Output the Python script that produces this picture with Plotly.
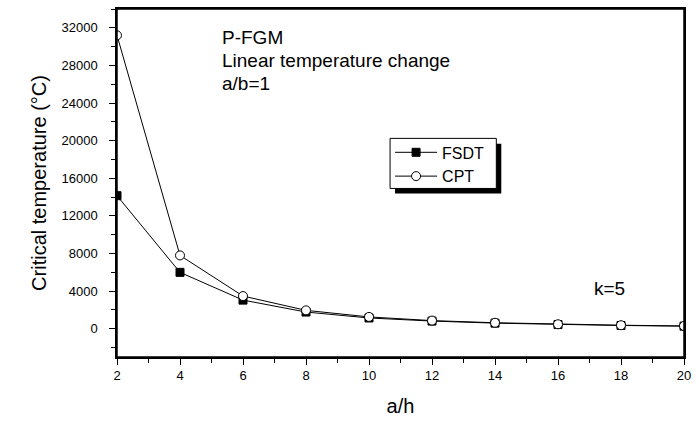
import plotly.graph_objects as go

a_h = [2, 4, 6, 8, 10, 12, 14, 16, 18, 20]
fsdt = [14150, 6000, 3050, 1780, 1150, 820, 600, 450, 350, 280]
cpt = [31200, 7800, 3480, 1960, 1260, 870, 640, 480, 380, 300]

x_ticks = [2, 4, 6, 8, 10, 12, 14, 16, 18, 20]
y_ticks = [0, 4000, 8000, 12000, 16000, 20000, 24000, 28000, 32000]

FONT = "Liberation Sans, Arial, sans-serif"

fig = go.Figure()
fig.add_trace(go.Scatter(x=a_h, y=fsdt, name="FSDT", mode="lines+markers",
                         line=dict(color="black", width=1),
                         marker=dict(symbol="square", size=8, color="black",
                                     line=dict(color="black", width=1))))
fig.add_trace(go.Scatter(x=a_h, y=cpt, name="CPT", mode="lines+markers",
                         line=dict(color="black", width=1),
                         marker=dict(symbol="circle", size=9, color="white",
                                     line=dict(color="black", width=1))))

L, R, T, B = 117, 10, 7, 63
W, H = 698, 421
pw = W - L - R
ph = H - T - B

def px2x(px):
    return (px - L) / pw

def px2y(py):
    return (H - B - py) / ph

fig.add_shape(type="rect", xref="paper", yref="paper", x0=0, x1=1, y0=0, y1=1,
              line=dict(color="black", width=1.5), fillcolor="rgba(0,0,0,0)", layer="above")

fig.add_shape(type="rect", xref="paper", yref="paper",
              x0=px2x(397), x1=px2x(504), y0=px2y(193), y1=px2y(143),
              fillcolor="black", line=dict(width=0), layer="above")
fig.add_shape(type="rect", xref="paper", yref="paper",
              x0=px2x(392), x1=px2x(499), y0=px2y(188), y1=px2y(137.5),
              fillcolor="white", line=dict(color="black", width=1), layer="above")

ann_font = dict(family=FONT, size=19, color="black")
for txt, yy in [("P-FGM", 36), ("Linear temperature change", 59), ("a/b=1", 82)]:
    fig.add_annotation(text=txt, xref="paper", yref="paper", x=px2x(221), y=px2y(yy),
                       xanchor="left", yanchor="middle", showarrow=False, font=ann_font)
fig.add_annotation(text="k=5", xref="paper", yref="paper", x=px2x(595), y=px2y(289),
                   xanchor="left", yanchor="middle", showarrow=False, font=ann_font)

fig.update_layout(
    width=W, height=H,
    margin=dict(l=L, r=R, t=T, b=B),
    paper_bgcolor="white", plot_bgcolor="white",
    font=dict(family=FONT, color="black", size=13),
    showlegend=True,
    legend=dict(x=px2x(392), y=px2y(134.5), xanchor="left", yanchor="top",
                bgcolor="rgba(0,0,0,0)", borderwidth=0,
                font=dict(family=FONT, size=16, color="black"),
                tracegroupgap=0, itemwidth=42),
    xaxis=dict(range=[2, 20], tickmode="array", tickvals=x_ticks,
               ticktext=[str(v) for v in x_ticks],
               showgrid=False, zeroline=False, showline=True, linecolor="black",
               linewidth=1.5, mirror=True, ticks="outside", ticklen=6, tickwidth=1,
               tickcolor="black",
               minor=dict(tickmode="linear", tick0=1, dtick=2, ticks="outside",
                          ticklen=4, tickwidth=1, tickcolor="black", showgrid=False),
               title=dict(text="a/h", font=dict(family=FONT, size=20), standoff=17),
               tickfont=dict(family=FONT, size=13)),
    yaxis=dict(range=[-3000, 34000], tickmode="array", tickvals=y_ticks,
               ticktext=[str(v) for v in y_ticks],
               showgrid=False, zeroline=False, showline=True, linecolor="black",
               linewidth=1.5, mirror=True, ticks="outside", ticklen=6, tickwidth=1,
               tickcolor="black", ticklabelstandoff=9,
               minor=dict(tickmode="linear", tick0=2000, dtick=4000, ticks="outside",
                          ticklen=4, tickwidth=1, tickcolor="black", showgrid=False),
               title=dict(text="Critical temperature (°C)", font=dict(family=FONT, size=20),
                          standoff=9),
               tickfont=dict(family=FONT, size=13)),
)

fig.write_html(
    "out.html", config={"displayModeBar": False},
    post_script=("document.body.style.margin='0';"
                 "document.body.style.overflow='hidden';"
                 "document.documentElement.style.overflow='hidden';"
                 "window.scrollTo(0,0);"))
